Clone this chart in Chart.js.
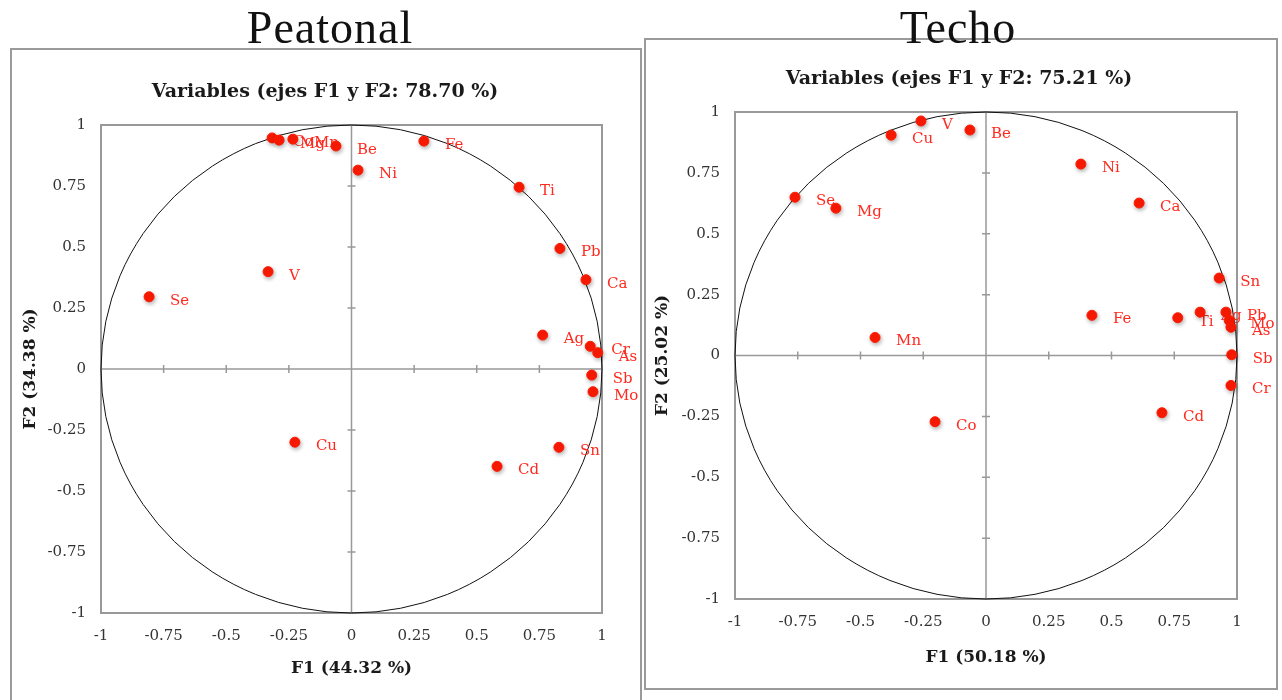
<!DOCTYPE html>
<html>
<head>
<meta charset="utf-8">
<title>ACP metales - Peatonal / Techo</title>
<script src="https://cdn.jsdelivr.net/npm/chart.js@4.4.1/dist/chart.umd.min.js"></script>
<style>
  body { margin: 0; background: #fff; width: 1282px; height: 700px; overflow: hidden; position: relative; }
  .caja { position: absolute; border: 2px solid #9a9a9a; }
  .sitio { position: absolute; width: 300px; text-align: center; font-family: "Liberation Serif", serif;
           font-size: 46px; line-height: 46px; letter-spacing: 1px; color: #111; }
  canvas { position: absolute; }
</style>
</head>
<body>
<div class="caja" style="left:10px; top:48px; width:628px; height:660px;"></div>
<div class="caja" style="left:644px; top:38px; width:630px; height:648px;"></div>
<canvas id="graficoPeatonal" width="628" height="650" style="left:12px; top:50px;"></canvas>
<canvas id="graficoTecho" width="630" height="648" style="left:646px; top:40px;"></canvas>
<div class="sitio" style="left:180px; top:5px;">Peatonal</div>
<div class="sitio" style="left:808px; top:5px;">Techo</div>

<script>
// Marcas de los ejes (iguales en F1 y F2)
const marcasEje = [-1, -0.75, -0.5, -0.25, 0, 0.25, 0.5, 0.75, 1];
const textoMarcas = ['-1', '-0.75', '-0.5', '-0.25', '0', '0.25', '0.5', '0.75', '1'];

// Peatonal: cargas de cada variable en F1 y F2
const peatonalVariables = ['Co', 'Mg', 'Mn', 'Be', 'Fe', 'Ni', 'Ti', 'Pb', 'Ca', 'V', 'Se', 'Ag', 'Cr', 'As', 'Sb', 'Mo', 'Cu', 'Sn', 'Cd'];
const peatonalF1 = [-0.317, -0.289, -0.234, -0.062, 0.289, 0.026, 0.669, 0.832, 0.936, -0.333, -0.808, 0.763, 0.953, 0.983, 0.959, 0.964, -0.226, 0.828, 0.581];
const peatonalF2 = [0.947, 0.938, 0.942, 0.914, 0.934, 0.815, 0.745, 0.494, 0.366, 0.399, 0.296, 0.139, 0.093, 0.067, -0.025, -0.093, -0.300, -0.321, -0.399];

// Techo
const techoVariables = ['V', 'Cu', 'Be', 'Ni', 'Se', 'Mg', 'Ca', 'Sn', 'Pb', 'Ag', 'Mo', 'As', 'Ti', 'Fe', 'Mn', 'Sb', 'Cr', 'Cd', 'Co'];
const techoF1 = [-0.259, -0.378, -0.064, 0.378, -0.761, -0.598, 0.610, 0.929, 0.956, 0.853, 0.969, 0.976, 0.764, 0.422, -0.442, 0.979, 0.976, 0.701, -0.203];
const techoF2 = [0.963, 0.905, 0.926, 0.786, 0.650, 0.605, 0.626, 0.318, 0.178, 0.178, 0.144, 0.116, 0.155, 0.165, 0.074, 0.003, -0.123, -0.235, -0.272];

const rojo = '#ff1a00';
const rojoTexto = '#ff2a1f';

// Marco, ejes en cero, circulo de correlaciones y nombres de las variables
const circuloCorrelaciones = {
  id: 'circuloCorrelaciones',
  beforeDatasetsDraw(chart) {
    const { ctx, chartArea: a, scales: { x, y } } = chart;
    const x0 = x.getPixelForValue(0);
    const y0 = y.getPixelForValue(0);
    ctx.save();

    ctx.strokeStyle = '#999';
    ctx.lineWidth = 2;
    ctx.strokeRect(a.left, a.top, a.right - a.left, a.bottom - a.top);

    ctx.lineWidth = 1.5;
    ctx.beginPath();
    ctx.moveTo(a.left, y0); ctx.lineTo(a.right, y0);
    ctx.moveTo(x0, a.top); ctx.lineTo(x0, a.bottom);
    marcasEje.forEach(v => {
      const px = x.getPixelForValue(v);
      const py = y.getPixelForValue(v);
      ctx.moveTo(px, y0 - 4); ctx.lineTo(px, y0 + 4);
      ctx.moveTo(x0 - 4, py); ctx.lineTo(x0 + 4, py);
    });
    ctx.stroke();

    ctx.strokeStyle = '#111';
    ctx.lineWidth = 1;
    ctx.beginPath();
    ctx.ellipse(x0, y0, x.getPixelForValue(1) - x0, y0 - y.getPixelForValue(1), 0, 0, 2 * Math.PI);
    ctx.stroke();

    // nombres a la derecha de cada punto
    const nombres = chart.data.datasets[0].nombres;
    const meta = chart.getDatasetMeta(0);
    ctx.fillStyle = rojoTexto;
    ctx.font = '15px "DejaVu Serif"';
    ctx.textAlign = 'left';
    ctx.textBaseline = 'middle';
    meta.data.forEach((p, i) => ctx.fillText(nombres[i], p.x + 21, p.y + 4));
    ctx.restore();
  },
  beforeDatasetDraw(chart) {
    const ctx = chart.ctx;
    ctx.save();
    ctx.shadowColor = 'rgba(0,0,0,0.3)';
    ctx.shadowBlur = 4;
    ctx.shadowOffsetX = 1;
    ctx.shadowOffsetY = 2;
  },
  afterDatasetDraw(chart) {
    chart.ctx.restore();
  }
};

function ejeF(titulo, posicion, tamano, relleno) {
  const eje = {
    type: 'linear',
    position: posicion,
    min: -1,
    max: 1,
    afterBuildTicks: s => { s.ticks = marcasEje.map(v => ({ value: v })); },
    ticks: {
      padding: posicion === 'bottom' ? 14 : 15,
      color: '#333',
      font: { family: 'DejaVu Serif', size: 15 },
      callback: (v, i) => textoMarcas[i]
    },
    grid: { display: false, drawTicks: false },
    border: { display: false },
    title: {
      display: true,
      text: titulo,
      color: '#1a1a1a',
      font: { family: 'DejaVu Serif', size: 17, weight: 'bold', lineHeight: 1.2 },
      padding: relleno
    }
  };
  if (posicion === 'bottom') eje.afterFit = s => { s.height = tamano; };
  else eje.afterFit = s => { s.width = tamano; };
  return eje;
}

function crearGrafico(idCanvas, titulo, tituloF1, tituloF2, nombres, f1, f2, medidas) {
  const puntos = f1.map((v, i) => ({ x: v, y: f2[i] }));
  return new Chart(document.getElementById(idCanvas), {
    type: 'scatter',
    data: {
      datasets: [{
        data: puntos,
        nombres: nombres,
        backgroundColor: rojo,
        borderColor: rojo,
        pointRadius: 5,
        pointHoverRadius: 5,
        clip: false
      }]
    },
    options: {
      responsive: false,
      animation: false,
      events: [],
      // el relleno izquierdo centra el titulo sobre el grafico; el eje Y ocupa el resto
      layout: { padding: { left: medidas.izquierda, right: medidas.derecha, top: 0, bottom: 0 } },
      plugins: {
        legend: { display: false },
        tooltip: { enabled: false },
        title: {
          display: true,
          text: titulo,
          color: '#1a1a1a',
          font: { family: 'DejaVu Serif', size: 19, weight: 'bold', lineHeight: 1.2 },
          padding: { top: medidas.tituloArriba, bottom: medidas.tituloAbajo }
        }
      },
      scales: {
        x: ejeF(tituloF1, 'bottom', medidas.altoX, { bottom: medidas.rellenoF1 }),
        y: ejeF(tituloF2, 'left', medidas.anchoY, { top: medidas.rellenoF2 })
      }
    },
    plugins: [circuloCorrelaciones]
  });
}

crearGrafico('graficoPeatonal', 'Variables (ejes F1 y F2: 78.70 %)', 'F1 (44.32 %)', 'F2 (34.38 %)',
  peatonalVariables, peatonalF1, peatonalF2,
  { izquierda: 36, derecha: 38, anchoY: 53, altoX: 87, tituloArriba: 31, tituloAbajo: 21.2,
    rellenoF1: 21, rellenoF2: -28 });

crearGrafico('graficoTecho', 'Variables (ejes F1 y F2: 75.21 %)', 'F1 (50.18 %)', 'F2 (25.02 %)',
  techoVariables, techoF1, techoF2,
  { izquierda: 35, derecha: 39, anchoY: 54, altoX: 89, tituloArriba: 28, tituloAbajo: 21.2,
    rellenoF1: 20, rellenoF2: -29 });
</script>
</body>
</html>
